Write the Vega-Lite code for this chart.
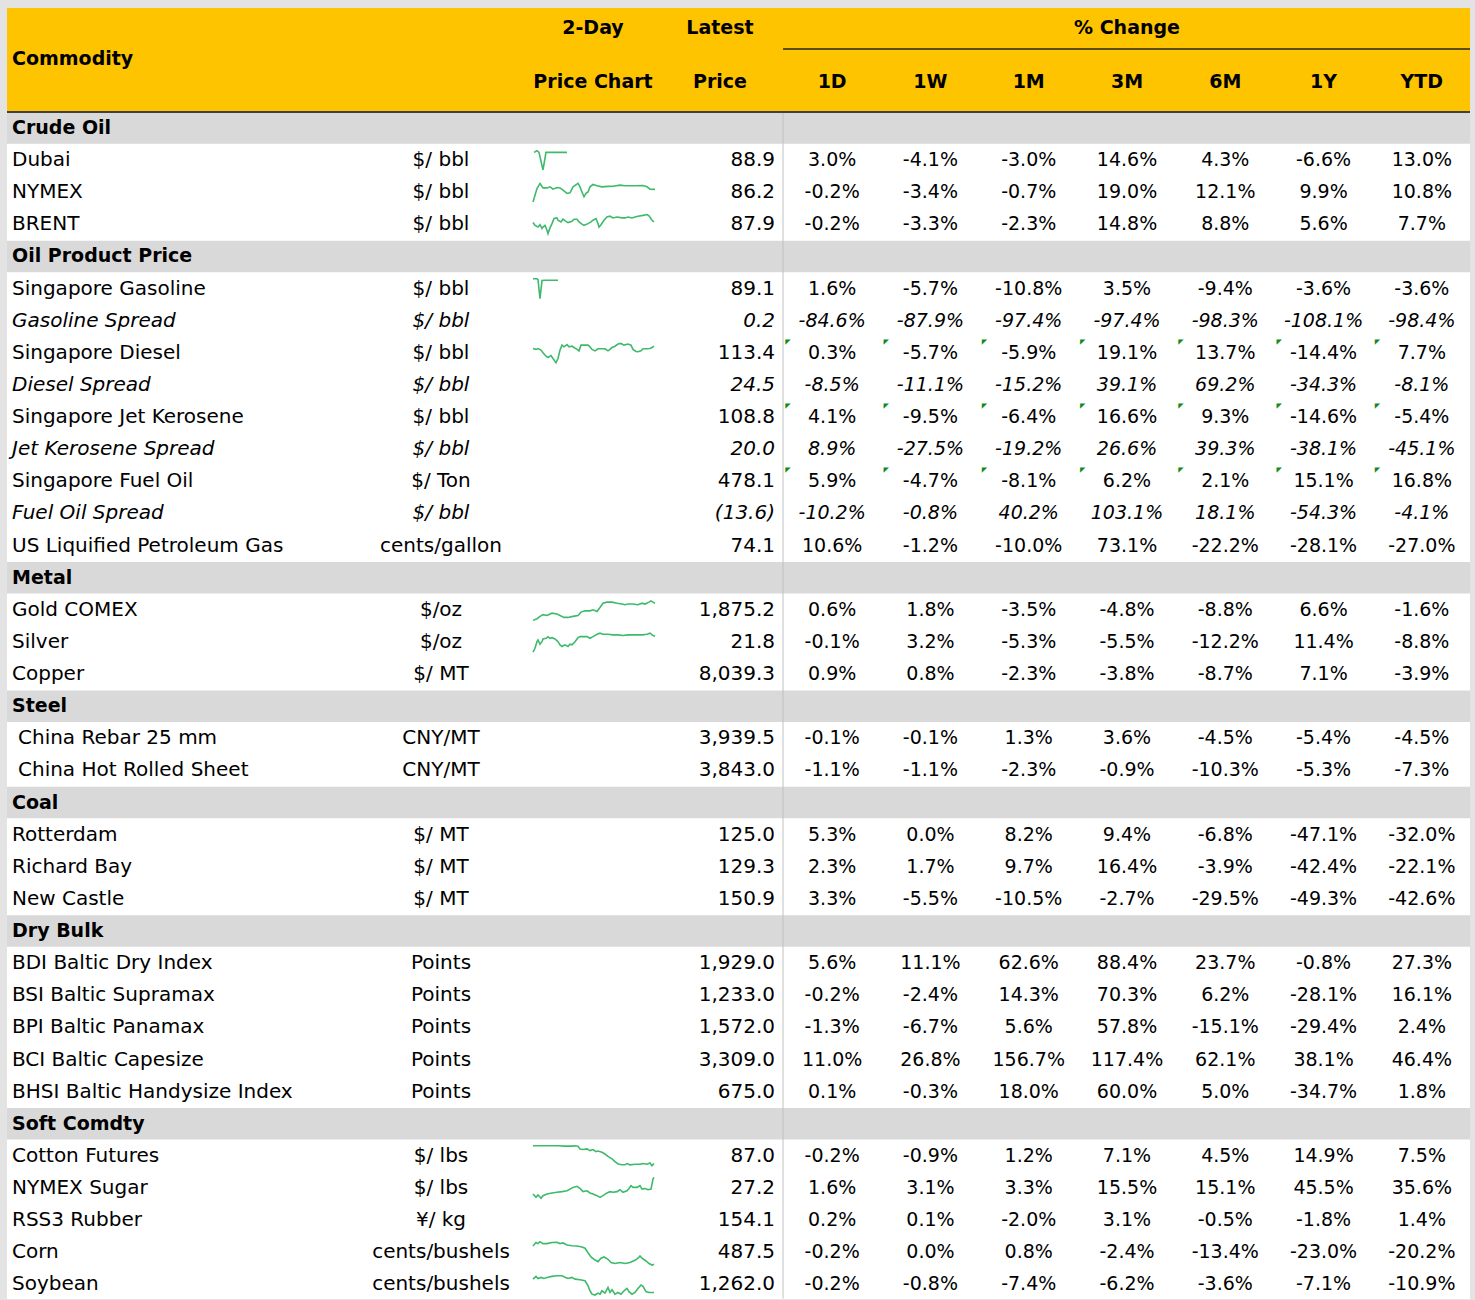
{
"$schema":"https://vega.github.io/schema/vega-lite/v6.json",
"width":1475,"height":1300,
"autosize":{"type":"fit","contains":"padding"},
"padding":0,
"background":"#e3e3e3",
"config":{"view":{"stroke":null},
 "scale":{"continuousPadding":0},
 "locale":{"number":{"decimal":".","thousands":",","grouping":[3],"currency":["$",""],"minus":"-"}},
 "text":{"font":"DejaVu Sans","fontSize":20,"color":"#000000","baseline":"middle"}},
"datasets":{
"rows":[
{"r":0,"name":"Crude Oil","g":true},
{"r":1,"name":"Dubai","unit":"$/ bbl","price":88.9,"d1":0.030,"w1":-0.041,"m1":-0.030,"m3":0.146,"m6":0.043,"y1":-0.066,"ytd":0.130},
{"r":2,"name":"NYMEX","unit":"$/ bbl","price":86.2,"d1":-0.002,"w1":-0.034,"m1":-0.007,"m3":0.190,"m6":0.121,"y1":0.099,"ytd":0.108},
{"r":3,"name":"BRENT","unit":"$/ bbl","price":87.9,"d1":-0.002,"w1":-0.033,"m1":-0.023,"m3":0.148,"m6":0.088,"y1":0.056,"ytd":0.077},
{"r":4,"name":"Oil Product Price","g":true},
{"r":5,"name":"Singapore Gasoline","unit":"$/ bbl","price":89.1,"d1":0.016,"w1":-0.057,"m1":-0.108,"m3":0.035,"m6":-0.094,"y1":-0.036,"ytd":-0.036},
{"r":6,"name":"Gasoline Spread","it":true,"unit":"$/ bbl","price":0.2,"d1":-0.846,"w1":-0.879,"m1":-0.974,"m3":-0.974,"m6":-0.983,"y1":-1.081,"ytd":-0.984},
{"r":7,"name":"Singapore Diesel","tri":true,"unit":"$/ bbl","price":113.4,"d1":0.003,"w1":-0.057,"m1":-0.059,"m3":0.191,"m6":0.137,"y1":-0.144,"ytd":0.077},
{"r":8,"name":"Diesel Spread","it":true,"unit":"$/ bbl","price":24.5,"d1":-0.085,"w1":-0.111,"m1":-0.152,"m3":0.391,"m6":0.692,"y1":-0.343,"ytd":-0.081},
{"r":9,"name":"Singapore Jet Kerosene","tri":true,"unit":"$/ bbl","price":108.8,"d1":0.041,"w1":-0.095,"m1":-0.064,"m3":0.166,"m6":0.093,"y1":-0.146,"ytd":-0.054},
{"r":10,"name":"Jet Kerosene Spread","it":true,"unit":"$/ bbl","price":20.0,"d1":0.089,"w1":-0.275,"m1":-0.192,"m3":0.266,"m6":0.393,"y1":-0.381,"ytd":-0.451},
{"r":11,"name":"Singapore Fuel Oil","tri":true,"unit":"$/ Ton","price":478.1,"d1":0.059,"w1":-0.047,"m1":-0.081,"m3":0.062,"m6":0.021,"y1":0.151,"ytd":0.168},
{"r":12,"name":"Fuel Oil Spread","it":true,"unit":"$/ bbl","price":-13.6,"d1":-0.102,"w1":-0.008,"m1":0.402,"m3":1.031,"m6":0.181,"y1":-0.543,"ytd":-0.041},
{"r":13,"name":"US Liquified Petroleum Gas","unit":"cents/gallon","price":74.1,"d1":0.106,"w1":-0.012,"m1":-0.100,"m3":0.731,"m6":-0.222,"y1":-0.281,"ytd":-0.270},
{"r":14,"name":"Metal","g":true},
{"r":15,"name":"Gold COMEX","unit":"$/oz","price":1875.2,"d1":0.006,"w1":0.018,"m1":-0.035,"m3":-0.048,"m6":-0.088,"y1":0.066,"ytd":-0.016},
{"r":16,"name":"Silver","unit":"$/oz","price":21.8,"d1":-0.001,"w1":0.032,"m1":-0.053,"m3":-0.055,"m6":-0.122,"y1":0.114,"ytd":-0.088},
{"r":17,"name":"Copper","unit":"$/ MT","price":8039.3,"d1":0.009,"w1":0.008,"m1":-0.023,"m3":-0.038,"m6":-0.087,"y1":0.071,"ytd":-0.039},
{"r":18,"name":"Steel","g":true},
{"r":19,"name":"China Rebar 25 mm","unit":"CNY/MT","price":3939.5,"d1":-0.001,"w1":-0.001,"m1":0.013,"m3":0.036,"m6":-0.045,"y1":-0.054,"ytd":-0.045},
{"r":20,"name":"China Hot Rolled Sheet","unit":"CNY/MT","price":3843.0,"d1":-0.011,"w1":-0.011,"m1":-0.023,"m3":-0.009,"m6":-0.103,"y1":-0.053,"ytd":-0.073},
{"r":21,"name":"Coal","g":true},
{"r":22,"name":"Rotterdam","unit":"$/ MT","price":125.0,"d1":0.053,"w1":0.000,"m1":0.082,"m3":0.094,"m6":-0.068,"y1":-0.471,"ytd":-0.320},
{"r":23,"name":"Richard Bay","unit":"$/ MT","price":129.3,"d1":0.023,"w1":0.017,"m1":0.097,"m3":0.164,"m6":-0.039,"y1":-0.424,"ytd":-0.221},
{"r":24,"name":"New Castle","unit":"$/ MT","price":150.9,"d1":0.033,"w1":-0.055,"m1":-0.105,"m3":-0.027,"m6":-0.295,"y1":-0.493,"ytd":-0.426},
{"r":25,"name":"Dry Bulk","g":true},
{"r":26,"name":"BDI Baltic Dry Index","unit":"Points","price":1929.0,"d1":0.056,"w1":0.111,"m1":0.626,"m3":0.884,"m6":0.237,"y1":-0.008,"ytd":0.273},
{"r":27,"name":"BSI Baltic Supramax","unit":"Points","price":1233.0,"d1":-0.002,"w1":-0.024,"m1":0.143,"m3":0.703,"m6":0.062,"y1":-0.281,"ytd":0.161},
{"r":28,"name":"BPI Baltic Panamax","unit":"Points","price":1572.0,"d1":-0.013,"w1":-0.067,"m1":0.056,"m3":0.578,"m6":-0.151,"y1":-0.294,"ytd":0.024},
{"r":29,"name":"BCI Baltic Capesize","unit":"Points","price":3309.0,"d1":0.110,"w1":0.268,"m1":1.567,"m3":1.174,"m6":0.621,"y1":0.381,"ytd":0.464},
{"r":30,"name":"BHSI Baltic Handysize Index","unit":"Points","price":675.0,"d1":0.001,"w1":-0.003,"m1":0.180,"m3":0.600,"m6":0.050,"y1":-0.347,"ytd":0.018},
{"r":31,"name":"Soft Comdty","g":true},
{"r":32,"name":"Cotton Futures","unit":"$/ lbs","price":87.0,"d1":-0.002,"w1":-0.009,"m1":0.012,"m3":0.071,"m6":0.045,"y1":0.149,"ytd":0.075},
{"r":33,"name":"NYMEX Sugar","unit":"$/ lbs","price":27.2,"d1":0.016,"w1":0.031,"m1":0.033,"m3":0.155,"m6":0.151,"y1":0.455,"ytd":0.356},
{"r":34,"name":"RSS3 Rubber","unit":"¥/ kg","price":154.1,"d1":0.002,"w1":0.001,"m1":-0.020,"m3":0.031,"m6":-0.005,"y1":-0.018,"ytd":0.014},
{"r":35,"name":"Corn","unit":"cents/bushels","price":487.5,"d1":-0.002,"w1":0.000,"m1":0.008,"m3":-0.024,"m6":-0.134,"y1":-0.230,"ytd":-0.202},
{"r":36,"name":"Soybean","unit":"cents/bushels","price":1262.0,"d1":-0.002,"w1":-0.008,"m1":-0.074,"m3":-0.062,"m6":-0.036,"y1":-0.071,"ytd":-0.109}
],
"cols":[{"key":"d1","label":"1D"},{"key":"w1","label":"1W"},{"key":"m1","label":"1M"},{"key":"m3","label":"3M"},{"key":"m6","label":"6M"},{"key":"y1","label":"1Y"},{"key":"ytd","label":"YTD"}],
"spark":[
{"name":"Dubai","t":[1,4,6,10,13,34],"v":[86,94,86,3,86,86]},
{"name":"NYMEX","t":[0,4,7,10,14,17,20,24,27,30,34,37,40,45,47,49,51,53,55,57,60,64,69,75,80,87,92,102,110,114,117,122],"v":[4,67,91,70,70,75,64,72,70,59,44,47,75,91,75,51,28,44,51,75,86,80,75,77,78,83,80,80,81,75,64,63]},
{"name":"BRENT","t":[0,2,5,7,9,10,12,14,15,17,19,21,24,25,28,30,33,35,39,41,44,46,49,51,55,58,60,63,65,66,68,71,74,77,80,84,89,92,95,99,102,105,110,114,116,119,121],"v":[58,45,37,48,30,37,45,22,6,33,53,77,80,69,61,74,64,58,64,74,74,61,51,45,53,61,69,77,53,37,48,69,84,88,80,84,80,80,84,80,84,88,92,96,90,69,61]},
{"name":"Singapore Gasoline","t":[0,4,5,7,9,12,25],"v":[96,96,92,2,88,89,89]},
{"name":"Singapore Diesel","t":[0,3,5,8,10,13,15,18,20,23,25,27,29,31,34,36,39,41,44,46,48,51,55,57,59,62,65,69,72,75,77,79,82,85,88,91,95,98,100,103,105,108,110,114,117,119,121],"v":[70,66,70,63,50,34,28,37,23,3,23,63,86,78,89,78,81,75,66,59,86,86,86,78,66,59,69,69,69,59,66,75,81,91,94,86,91,86,66,56,55,59,69,69,70,75,81]},
{"name":"Gold COMEX","t":[0,4,7,10,14,19,24,27,31,35,40,45,48,52,57,60,64,67,70,74,79,84,89,92,95,100,105,109,112,116,118,120,122],"v":[0,8,19,27,23,34,30,23,14,14,19,23,39,45,45,50,42,61,81,86,86,81,77,74,77,77,74,81,77,86,92,86,80]},
{"name":"Silver","t":[0,2,4,5,7,9,10,13,15,17,19,22,25,27,29,32,35,37,39,42,45,47,50,54,57,60,64,67,70,75,80,85,90,95,102,109,114,117,120,122],"v":[2,20,51,59,39,51,64,67,74,67,70,64,51,36,28,36,28,39,36,51,70,75,75,75,67,75,86,91,86,86,83,83,80,83,83,83,86,91,80,77]},
{"name":"Cotton Futures","t":[0,12,25,32,39,42,45,47,50,54,57,60,63,65,69,72,75,79,82,85,89,92,94,97,102,107,110,114,117,119,121],"v":[98,98,98,96,96,98,96,83,80,83,75,80,70,73,67,59,48,36,23,12,8,8,14,8,11,11,14,11,17,4,14]},
{"name":"NYMEX Sugar","t":[0,3,5,8,10,14,19,24,29,34,37,40,44,47,50,54,57,60,64,67,70,74,77,80,84,87,90,94,96,98,100,104,107,109,112,115,118,120,121],"v":[22,6,17,2,14,22,27,30,33,37,45,53,58,48,33,37,27,22,14,6,14,27,33,30,33,42,30,37,48,61,53,53,61,45,48,42,45,92,100]},
{"name":"Corn","t":[0,3,5,7,10,14,19,24,27,30,34,39,44,49,52,55,58,61,65,68,71,75,78,82,87,92,97,102,105,107,109,113,116,119,121],"v":[80,96,91,100,91,91,96,97,91,94,84,81,80,75,69,48,28,17,6,22,28,17,2,-3,2,-3,2,12,22,33,22,9,-3,-10,-6]},
{"name":"Soybean","t":[0,3,5,8,11,15,19,24,29,32,35,39,42,47,52,55,57,59,62,65,67,69,72,75,77,79,82,85,88,91,94,96,99,102,105,108,110,113,116,121],"v":[75,88,78,83,78,84,88,91,91,84,78,83,75,72,67,44,20,4,0,9,4,20,9,36,12,25,4,12,4,20,31,16,4,12,31,47,41,16,12,12]}
]
},
"resolve":{"scale":{"x":"independent"}},
"layer":[
{"layer":[
 {"data":{"values":[{}]},"mark":{"type":"rect","fill":"#ffffff"},
  "encoding":{"x":{"datum":7,"type":"quantitative","scale":{"domain":[0,1475],"nice":false,"zero":false},"axis":null},"x2":{"datum":1470},
   "y":{"datum":-3.733,"type":"quantitative","scale":{"domain":[-3.981,36.454],"nice":false,"zero":false,"reverse":true,"padding":0},"axis":null},"y2":{"datum":36.454}}},
 {"data":{"values":[{}]},"mark":{"type":"rect","fill":"#FFC400"},
  "encoding":{"x":{"datum":7,"type":"quantitative","scale":{"domain":[0,1475],"nice":false,"zero":false},"axis":null},"x2":{"datum":1470},
   "y":{"datum":-3.733,"type":"quantitative","scale":{"domain":[-3.981,36.454],"nice":false,"zero":false,"reverse":true,"padding":0},"axis":null},"y2":{"datum":-0.498}}},
 {"data":{"name":"rows"},"transform":[{"filter":"datum.g"}],"mark":{"type":"bar","orient":"horizontal","color":"#d9d9d9","size":31.5},
  "encoding":{"x":{"datum":7,"type":"quantitative","scale":{"domain":[0,1475],"nice":false,"zero":false},"axis":null},"x2":{"datum":1470},
   "y":{"field":"r","type":"quantitative","scale":{"domain":[-3.981,36.454],"nice":false,"zero":false,"reverse":true,"padding":0},"axis":null}}},
 {"data":{"values":[{}]},"mark":{"type":"rule","stroke":"#c0c0c0","strokeWidth":1},
  "encoding":{"x":{"datum":783,"type":"quantitative","scale":{"domain":[0,1475],"nice":false,"zero":false},"axis":null},
   "y":{"datum":-0.498,"type":"quantitative","scale":{"domain":[-3.981,36.454],"nice":false,"zero":false,"reverse":true,"padding":0},"axis":null},"y2":{"datum":36.44}}},
 {"data":{"values":[{}]},"mark":{"type":"rule","stroke":"#404040","strokeWidth":2},
  "encoding":{"x":{"datum":7,"type":"quantitative","scale":{"domain":[0,1475],"nice":false,"zero":false},"axis":null},"x2":{"datum":1470},
   "y":{"datum":-0.498,"type":"quantitative","scale":{"domain":[-3.981,36.454],"nice":false,"zero":false,"reverse":true,"padding":0},"axis":null}}},
 {"data":{"values":[{}]},"mark":{"type":"rule","stroke":"#262626","strokeWidth":1.5},
  "encoding":{"x":{"datum":783,"type":"quantitative","scale":{"domain":[0,1475],"nice":false,"zero":false},"axis":null},"x2":{"datum":1470},
   "y":{"datum":-2.457,"type":"quantitative","scale":{"domain":[-3.981,36.454],"nice":false,"zero":false,"reverse":true,"padding":0},"axis":null}}},
 {"data":{"values":[{}]},"mark":{"type":"text","fontWeight":"bold","fontSize":19,"align":"left"},
  "encoding":{"x":{"datum":12,"type":"quantitative","scale":{"domain":[0,1475],"nice":false,"zero":false},"axis":null},
   "y":{"datum":-2.146,"type":"quantitative","scale":{"domain":[-3.981,36.454],"nice":false,"zero":false,"reverse":true,"padding":0},"axis":null},"text":{"value":"Commodity"}}},
 {"data":{"values":[{}]},"mark":{"type":"text","fontWeight":"bold","fontSize":19,"align":"center"},
  "encoding":{"x":{"datum":593,"type":"quantitative","scale":{"domain":[0,1475],"nice":false,"zero":false},"axis":null},
   "y":{"datum":-3.11,"type":"quantitative","scale":{"domain":[-3.981,36.454],"nice":false,"zero":false,"reverse":true,"padding":0},"axis":null},"text":{"value":"2-Day"}}},
 {"data":{"values":[{}]},"mark":{"type":"text","fontWeight":"bold","fontSize":19,"align":"center"},
  "encoding":{"x":{"datum":593,"type":"quantitative","scale":{"domain":[0,1475],"nice":false,"zero":false},"axis":null},
   "y":{"datum":-1.431,"type":"quantitative","scale":{"domain":[-3.981,36.454],"nice":false,"zero":false,"reverse":true,"padding":0},"axis":null},"text":{"value":"Price Chart"}}},
 {"data":{"values":[{}]},"mark":{"type":"text","fontWeight":"bold","fontSize":19,"align":"center"},
  "encoding":{"x":{"datum":720,"type":"quantitative","scale":{"domain":[0,1475],"nice":false,"zero":false},"axis":null},
   "y":{"datum":-3.11,"type":"quantitative","scale":{"domain":[-3.981,36.454],"nice":false,"zero":false,"reverse":true,"padding":0},"axis":null},"text":{"value":"Latest"}}},
 {"data":{"values":[{}]},"mark":{"type":"text","fontWeight":"bold","fontSize":19,"align":"center"},
  "encoding":{"x":{"datum":720,"type":"quantitative","scale":{"domain":[0,1475],"nice":false,"zero":false},"axis":null},
   "y":{"datum":-1.431,"type":"quantitative","scale":{"domain":[-3.981,36.454],"nice":false,"zero":false,"reverse":true,"padding":0},"axis":null},"text":{"value":"Price"}}},
 {"data":{"values":[{}]},"mark":{"type":"text","fontWeight":"bold","fontSize":19,"align":"center"},
  "encoding":{"x":{"datum":1127,"type":"quantitative","scale":{"domain":[0,1475],"nice":false,"zero":false},"axis":null},
   "y":{"datum":-3.11,"type":"quantitative","scale":{"domain":[-3.981,36.454],"nice":false,"zero":false,"reverse":true,"padding":0},"axis":null},"text":{"value":"% Change"}}},
 {"data":{"name":"rows"},"transform":[{"filter":"datum.g"}],"mark":{"type":"text","fontWeight":"bold","fontSize":19,"align":"left"},
  "encoding":{"x":{"datum":12,"type":"quantitative","scale":{"domain":[0,1475],"nice":false,"zero":false},"axis":null},
   "y":{"field":"r","type":"quantitative","scale":{"domain":[-3.981,36.454],"nice":false,"zero":false,"reverse":true,"padding":0},"axis":null},"text":{"field":"name"}}},
 {"data":{"name":"rows"},"transform":[{"filter":"!datum.g && !datum.it && !test(/^China/, datum.name)"}],"mark":{"type":"text","align":"left"},
  "encoding":{"x":{"datum":12,"type":"quantitative","scale":{"domain":[0,1475],"nice":false,"zero":false},"axis":null},
   "y":{"field":"r","type":"quantitative","scale":{"domain":[-3.981,36.454],"nice":false,"zero":false,"reverse":true,"padding":0},"axis":null},"text":{"field":"name"}}},
 {"data":{"name":"rows"},"transform":[{"filter":"test(/^China/, datum.name)"}],"mark":{"type":"text","align":"left"},
  "encoding":{"x":{"datum":18,"type":"quantitative","scale":{"domain":[0,1475],"nice":false,"zero":false},"axis":null},
   "y":{"field":"r","type":"quantitative","scale":{"domain":[-3.981,36.454],"nice":false,"zero":false,"reverse":true,"padding":0},"axis":null},"text":{"field":"name"}}},
 {"data":{"name":"rows"},"transform":[{"filter":"datum.it"}],"mark":{"type":"text","align":"left","fontStyle":"italic"},
  "encoding":{"x":{"datum":12,"type":"quantitative","scale":{"domain":[0,1475],"nice":false,"zero":false},"axis":null},
   "y":{"field":"r","type":"quantitative","scale":{"domain":[-3.981,36.454],"nice":false,"zero":false,"reverse":true,"padding":0},"axis":null},"text":{"field":"name"}}},
 {"data":{"name":"rows"},"transform":[{"filter":"!datum.g && !datum.it"}],"mark":{"type":"text","align":"center"},
  "encoding":{"x":{"datum":441,"type":"quantitative","scale":{"domain":[0,1475],"nice":false,"zero":false},"axis":null},
   "y":{"field":"r","type":"quantitative","scale":{"domain":[-3.981,36.454],"nice":false,"zero":false,"reverse":true,"padding":0},"axis":null},"text":{"field":"unit"}}},
 {"data":{"name":"rows"},"transform":[{"filter":"datum.it"}],"mark":{"type":"text","align":"center","fontStyle":"italic"},
  "encoding":{"x":{"datum":441,"type":"quantitative","scale":{"domain":[0,1475],"nice":false,"zero":false},"axis":null},
   "y":{"field":"r","type":"quantitative","scale":{"domain":[-3.981,36.454],"nice":false,"zero":false,"reverse":true,"padding":0},"axis":null},"text":{"field":"unit"}}},
 {"data":{"name":"rows"},"transform":[{"filter":"!datum.g && !datum.it"}],"mark":{"type":"text","align":"right"},
  "encoding":{"x":{"datum":775,"type":"quantitative","scale":{"domain":[0,1475],"nice":false,"zero":false},"axis":null},
   "y":{"field":"r","type":"quantitative","scale":{"domain":[-3.981,36.454],"nice":false,"zero":false,"reverse":true,"padding":0},"axis":null},"text":{"field":"price","type":"quantitative","format":"(,.1f"}}},
 {"data":{"name":"rows"},"transform":[{"filter":"datum.it"}],"mark":{"type":"text","align":"right","fontStyle":"italic"},
  "encoding":{"x":{"datum":775,"type":"quantitative","scale":{"domain":[0,1475],"nice":false,"zero":false},"axis":null},
   "y":{"field":"r","type":"quantitative","scale":{"domain":[-3.981,36.454],"nice":false,"zero":false,"reverse":true,"padding":0},"axis":null},"text":{"field":"price","type":"quantitative","format":"(,.1f"}}}
]},
{"layer":[
 {"data":{"name":"cols"},"mark":{"type":"text","fontWeight":"bold","fontSize":19,"align":"center"},
  "encoding":{"x":{"field":"key","type":"nominal","scale":{"type":"band","domain":["d1","w1","m1","m3","m6","y1","ytd"],"range":[783,1471],"paddingInner":0,"paddingOuter":0},"axis":null},
   "y":{"datum":-1.431,"type":"quantitative","scale":{"domain":[-3.981,36.454],"nice":false,"zero":false,"reverse":true,"padding":0},"axis":null},"text":{"field":"label"}}},
 {"data":{"name":"rows"},"transform":[{"filter":"!datum.g && !datum.it"},{"fold":["d1","w1","m1","m3","m6","y1","ytd"],"as":["key","val"]}],
  "mark":{"type":"text","align":"center","fontSize":19},
  "encoding":{"x":{"field":"key","type":"nominal","scale":{"type":"band","domain":["d1","w1","m1","m3","m6","y1","ytd"],"range":[783,1471],"paddingInner":0,"paddingOuter":0},"axis":null},
   "y":{"field":"r","type":"quantitative","scale":{"domain":[-3.981,36.454],"nice":false,"zero":false,"reverse":true,"padding":0},"axis":null},"text":{"field":"val","type":"quantitative","format":".1%"}}},
 {"data":{"name":"rows"},"transform":[{"filter":"datum.it"},{"fold":["d1","w1","m1","m3","m6","y1","ytd"],"as":["key","val"]}],
  "mark":{"type":"text","align":"center","fontSize":19,"fontStyle":"italic"},
  "encoding":{"x":{"field":"key","type":"nominal","scale":{"type":"band","domain":["d1","w1","m1","m3","m6","y1","ytd"],"range":[783,1471],"paddingInner":0,"paddingOuter":0},"axis":null},
   "y":{"field":"r","type":"quantitative","scale":{"domain":[-3.981,36.454],"nice":false,"zero":false,"reverse":true,"padding":0},"axis":null},"text":{"field":"val","type":"quantitative","format":".1%"}}},
 {"data":{"name":"rows"},"transform":[{"filter":"datum.tri"},{"fold":["d1","w1","m1","m3","m6","y1","ytd"],"as":["key","val"]}],
  "mark":{"type":"text","align":"left","baseline":"top","fontSize":7,"color":"#128a1e","dx":-47,"dy":-15},
  "encoding":{"x":{"field":"key","type":"nominal","scale":{"type":"band","domain":["d1","w1","m1","m3","m6","y1","ytd"],"range":[783,1471],"paddingInner":0,"paddingOuter":0},"axis":null},
   "y":{"field":"r","type":"quantitative","scale":{"domain":[-3.981,36.454],"nice":false,"zero":false,"reverse":true,"padding":0},"axis":null},"text":{"value":"◤"}}}
]},
{"data":{"name":"spark"},
 "transform":[{"flatten":["t","v"]},{"lookup":"name","from":{"data":{"name":"rows"},"key":"name","fields":["r"]}},{"calculate":"datum.r + (50 - datum.v) * 0.0066","as":"sy"}],
 "mark":{"type":"line","color":"#3dba6b","strokeWidth":1.6},
 "encoding":{"x":{"field":"t","type":"quantitative","scale":{"domain":[0,122],"range":[533,655],"nice":false,"zero":false},"axis":null},
  "y":{"field":"sy","type":"quantitative","scale":{"domain":[-3.981,36.454],"nice":false,"zero":false,"reverse":true,"padding":0},"axis":null},
  "detail":{"field":"name"},"order":{"field":"t"}}}
]
}
